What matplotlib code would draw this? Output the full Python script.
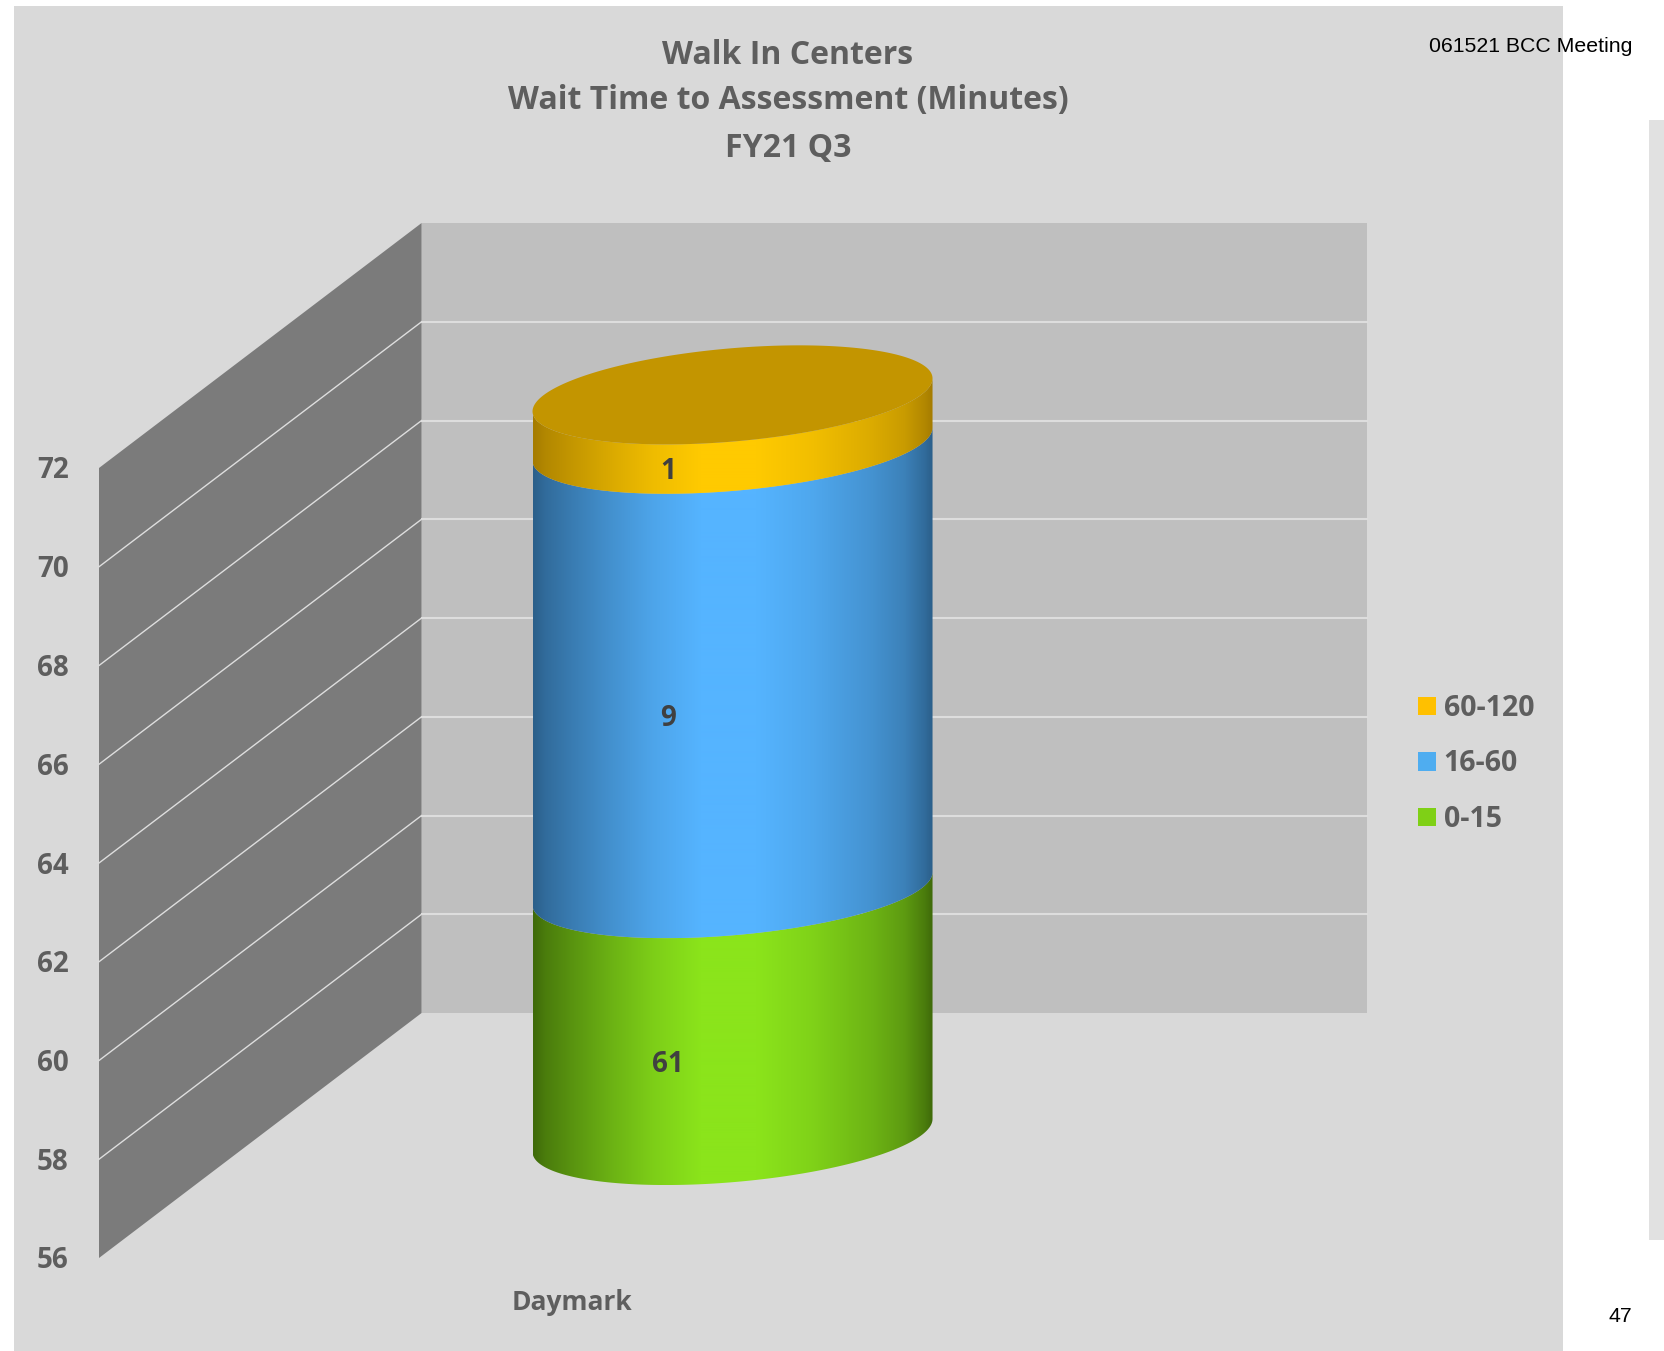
import numpy as np
import matplotlib
matplotlib.use('Agg')
import matplotlib.pyplot as plt
from matplotlib.patches import Polygon, Rectangle, Patch
from matplotlib import colors as mcolors

category = 'Daymark'
bands = ['0-15', '16-60', '60-120']
values = [61, 9, 1]
axis_ticks = [56, 58, 60, 62, 64, 66, 68, 70, 72]
title_lines = ['Walk In Centers', 'Wait Time to Assessment (Minutes)', 'FY21 Q3']

light = ['#8BE41B', '#55B4FF', '#FFCA00']
dark = ['#3F6A0A', '#2B5F8A', '#A57C00']
legend_colors = ['#7FD016', '#4FADF0', '#FFC000']
top_color = '#C39500'

W, H = 1665, 1351
TEXT = '#5E5E5E'
FONT = 'Open Sans'


def fx(px):
    return px / W


def fy(px):
    return 1 - px / H


fig = plt.figure(figsize=(W / 100, H / 100), dpi=100, facecolor='white')
fig.add_artist(Rectangle((fx(14), fy(1351)), fx(1563 - 14), 1345 / H, transform=fig.transFigure,
                         fc='#D9D9D9', ec='none', zorder=-2))
fig.add_artist(Rectangle((fx(1649), fy(1240)), fx(16), 1120 / H, transform=fig.transFigure,
                         fc='#E1E1E1', ec='none', zorder=-2))

# back wall of the 3d chart is the real axes
ax = fig.add_axes([fx(421.6), fy(1013), fx(945.4), 790 / H])
ax.set_xlim(0, 1)
ax.set_ylim(axis_ticks[0], axis_ticks[-1])
ax.set_facecolor('#BFBFBF')
ax.set_xticks([])
ax.set_yticks([])
for s in ax.spines.values():
    s.set_visible(False)

# depth=1 is the front edge of the left wall
DX = -322.6 / 945.4
DY = -245 / (790 / 16)


def proj(x, v, d):
    return x + DX * d, v + DY * d


x0, x1 = ax.get_xlim()
low, high = axis_ticks[0], axis_ticks[-1]
wall = [proj(x0, low, 0), proj(x0, high, 0), proj(x0, high, 1), proj(x0, low, 1)]
ax.add_patch(Polygon(wall, fc='#7B7B7B', ec='none', clip_on=False))

for t in axis_ticks[1:-1]:
    ax.plot([x0, x1], [t, t], color='#DDDDDD', lw=1.5, clip_on=False, zorder=1)
    xs, ys = zip(proj(x0, t, 0), proj(x0, t, 1))
    ax.plot(xs, ys, color='#DEDEDE', lw=1, clip_on=False, zorder=1)

# va center sits a little high with this font, so nudge the text down
NUDGE = 3 / (790 / 16)

for t in axis_ticks:
    px, py = proj(x0, t, 1)
    ax.text(px - 46 / 945.4, py - NUDGE, str(t), ha='center', va='center', fontsize=20, fontweight='bold',
            color=TEXT, family=FONT)

# cylinder
BAR_X = 0.4995
CX, CV = proj(BAR_X, 0, 0.5)
RX = 200 / 945.4
RY = 46.7 / (790 / 16)
TILT = 16.5 / (790 / 16)
tt = np.linspace(np.pi, 2 * np.pi, 120)
tops = np.cumsum(values)
bottoms = np.r_[low, tops[:-1]]
stops = [0, 0.03, 0.1, 0.2, 0.3, 0.42, 0.56, 0.7, 0.85, 0.93, 0.98, 1]
shade = [0, 0.15, 0.35, 0.6, 0.82, 1, 1, 0.85, 0.6, 0.4, 0.15, 0]


def arc(v, t):
    return CX + RX * np.cos(t), v + CV + TILT * np.cos(t) + RY * np.sin(t)


for i in range(len(values)):
    xb, yb = arc(bottoms[i], tt)
    xt, yt = arc(tops[i], tt[::-1])
    poly = Polygon(np.c_[np.r_[xb, xt], np.r_[yb, yt]], transform=ax.transData)
    s = np.interp(np.linspace(0, 1, 400), stops, shade)[:, None]
    c0 = np.array(mcolors.to_rgb(dark[i]))
    c1 = np.array(mcolors.to_rgb(light[i]))
    img = (c0 + (c1 - c0) * s)[None, :, :]
    im = ax.imshow(img, extent=[CX - RX, CX + RX, yb.min(), yt.max()], aspect='auto',
                   interpolation='bilinear', zorder=3)
    im.set_clip_box(fig.bbox)
    im.set_clip_path(poly)

    # labels sit on the front of the cylinder
    lx, ly = proj(BAR_X, (bottoms[i] + tops[i]) / 2, 0.7)
    ax.text(lx, ly - NUDGE, str(values[i]), ha='center', va='center', fontsize=20, fontweight='bold',
            color='#404040', family=FONT, zorder=5)

full = np.linspace(0, 2 * np.pi, 240)
ex, ey = arc(tops[-1], full)
ax.add_patch(Polygon(np.c_[ex, ey], fc=top_color, ec='none', clip_on=False, zorder=4))

ax.set_xlim(x0, x1)
ax.set_ylim(low, high)

lx, ly = proj(0.5, low, 1)
ax.text(lx, ly - 31 / (790 / 16), category, ha='center', va='top', fontsize=19, fontweight='bold',
        color=TEXT, family=FONT)

for line, py in zip(title_lines, [56, 101, 148]):
    fig.text(fx(788), fy(py), line, ha='center', va='center', fontsize=23, fontweight='bold',
             color=TEXT, family=FONT)

handles = [Patch(fc=c, ec='none') for c in legend_colors[::-1]]
leg = fig.legend(handles, bands[::-1], loc='center left', bbox_to_anchor=(fx(1418), fy(764)),
                 frameon=False, handlelength=0.62, handleheight=0.62, handletextpad=0.28,
                 labelspacing=0.93, borderpad=0, borderaxespad=0,
                 prop={'family': FONT, 'weight': 'bold', 'size': 20.5})
for t in leg.get_texts():
    t.set_color(TEXT)

fig.text(fx(1632), fy(47), '061521 BCC Meeting', ha='right', va='center', fontsize=15.3,
         color='black', family='Liberation Sans')
fig.text(fx(1632), fy(1316), '47', ha='right', va='center', fontsize=15.3,
         color='black', family='Liberation Sans')

fig.savefig('out.png', dpi=100)
